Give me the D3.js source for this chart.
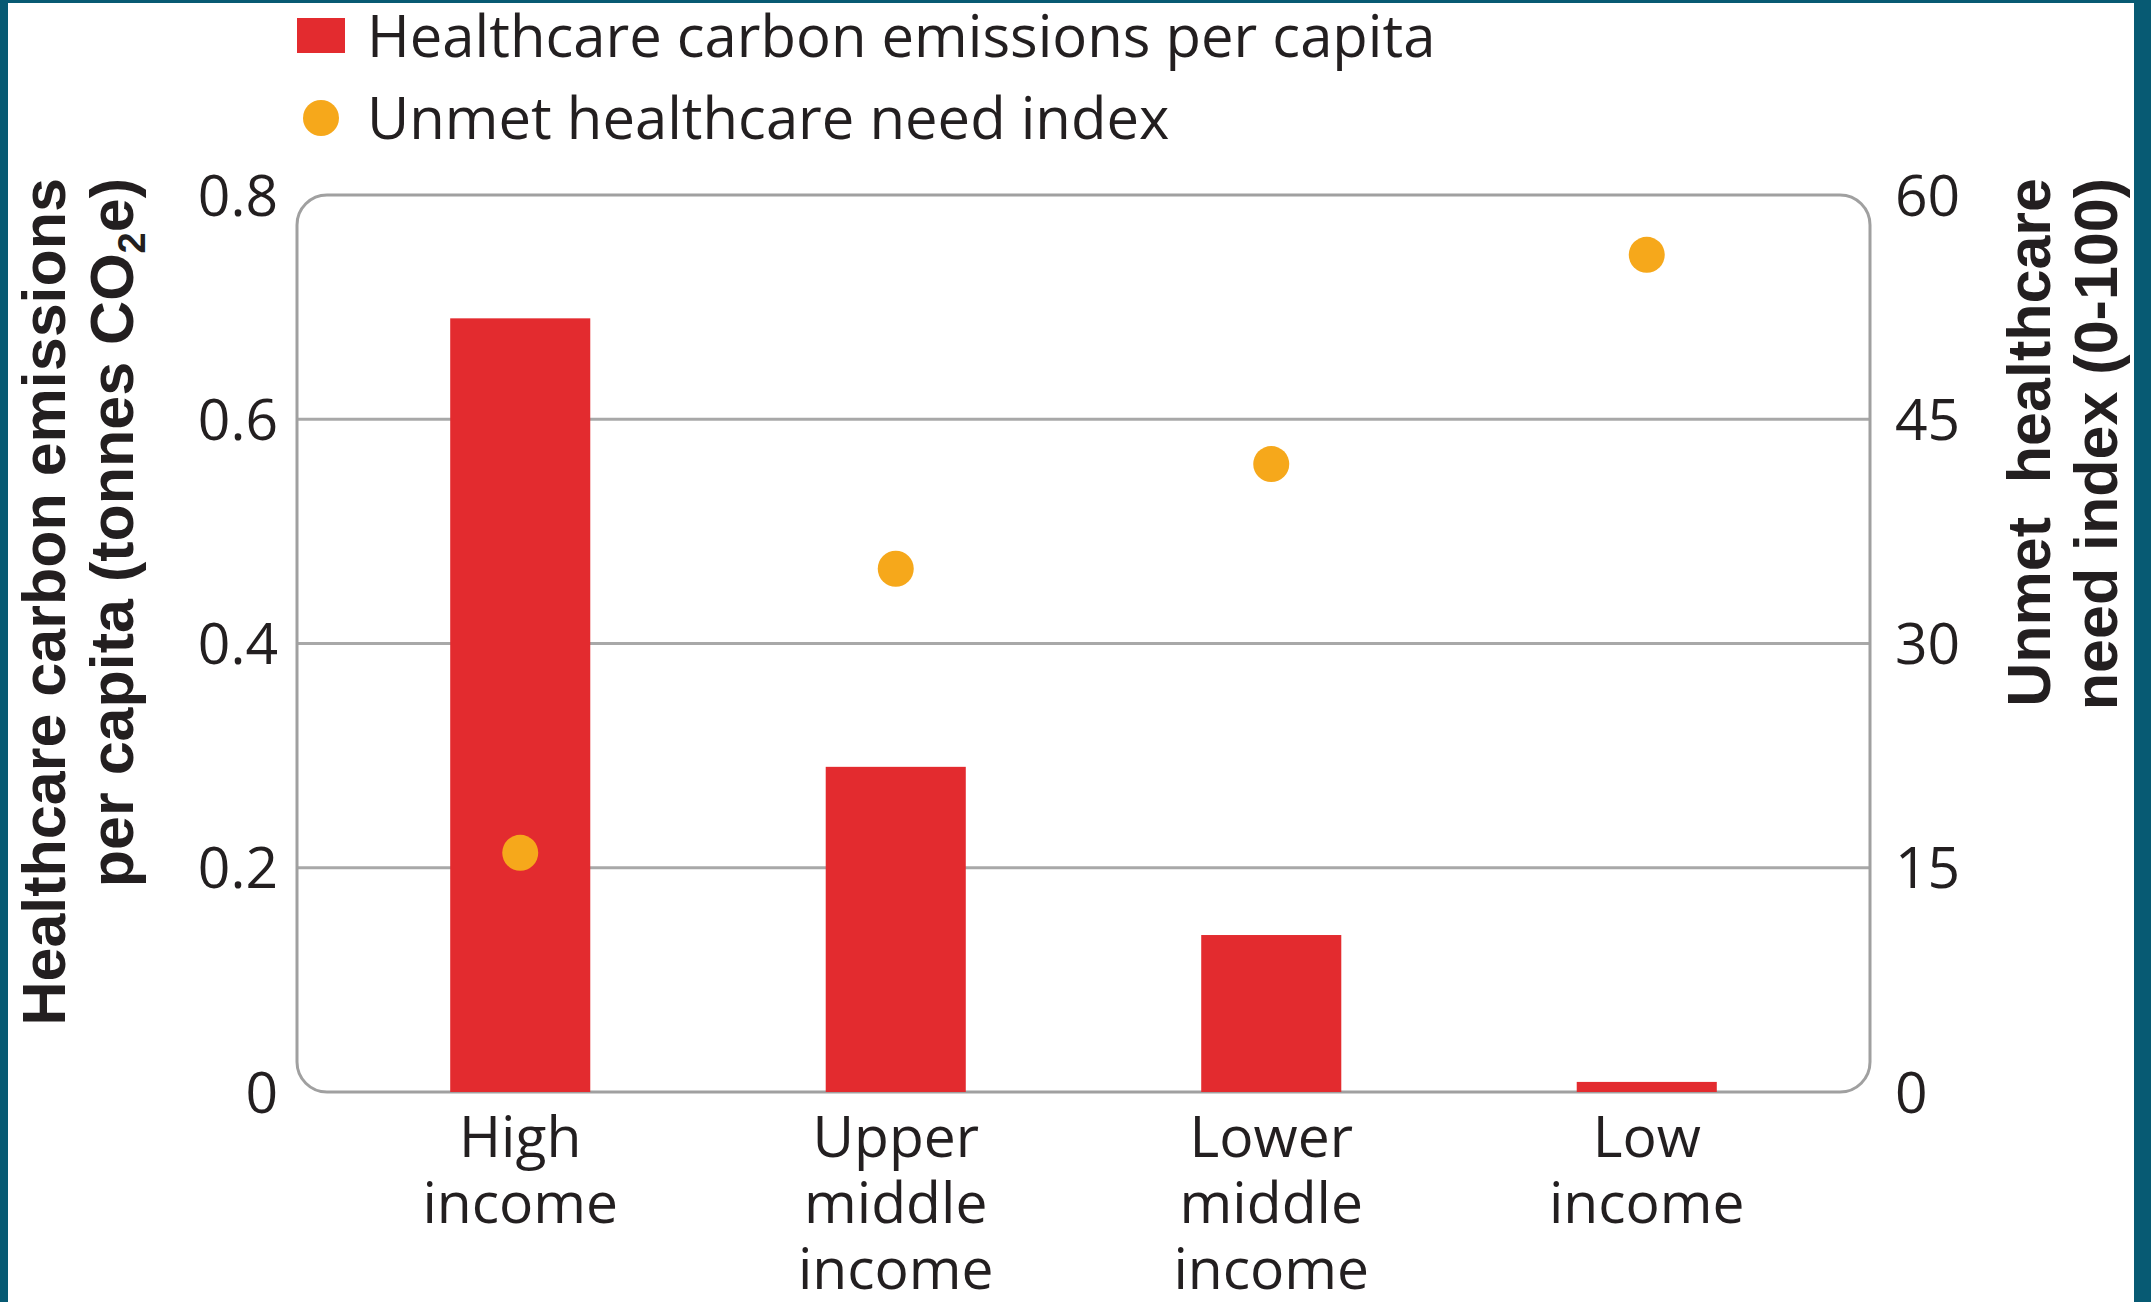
<!DOCTYPE html>
<html>
<head>
<meta charset="utf-8">
<script src="https://cdn.jsdelivr.net/npm/d3@7"></script>
<style>
  body { margin: 0; background: #075a73; }
  svg { display: block; }
  .tick-label, .cat-label, .legend-label { font-family: "Open Sans", sans-serif; font-size: 57px; fill: #231f20; }
  .legend-label { font-size: 58px; }
  .axis-title { font-family: "Liberation Sans", Arial, sans-serif; font-weight: bold; font-size: 61px; fill: #231f20; }
</style>
</head>
<body>
<div id="chart"></div>
<script>
// data
var categories = ["High income", "Upper middle income", "Lower middle income", "Low income"];
var catLines = [["High", "income"], ["Upper", "middle", "income"], ["Lower", "middle", "income"], ["Low", "income"]];
var emissions = [0.69, 0.29, 0.14, 0.009];
var unmetNeed = [16, 35, 42, 56];
var leftTicks = [0, 0.2, 0.4, 0.6, 0.8];
var rightTicks = [0, 15, 30, 45, 60];
var seriesNames = ["Healthcare carbon emissions per capita", "Unmet healthcare need index"];

var width = 2151, height = 1302;
var plotLeft = 297, plotRight = 1870, plotTop = 195, plotBottom = 1092;

var svg = d3.select("#chart").append("svg")
  .attr("width", width)
  .attr("height", height);

//frame
svg.append("rect").attr("width", width).attr("height", height).attr("fill", "#075a73");
svg.append("rect").attr("x", 8).attr("y", 3).attr("width", 2134 - 8).attr("height", height).attr("fill", "#fff");

var x = d3.scaleBand()
  .domain(categories)
  .range([plotLeft, plotRight])
  .paddingInner(0.627)
  .paddingOuter(0.408);

var yL = d3.scaleLinear().domain([0, 0.8]).range([plotBottom, plotTop]);
var yR = d3.scaleLinear().domain([0, 60]).range([plotBottom, plotTop]);

//gridlines
svg.append("g").selectAll("line")
  .data(leftTicks.slice(1, -1))
  .enter().append("line")
  .attr("x1", plotLeft).attr("x2", plotRight)
  .attr("y1", function(d) { return yL(d); })
  .attr("y2", function(d) { return yL(d); })
  .attr("stroke", "#a8a8a8")
  .attr("stroke-width", 3);

//plot border
svg.append("rect")
  .attr("x", plotLeft).attr("y", plotTop)
  .attr("width", plotRight - plotLeft).attr("height", plotBottom - plotTop)
  .attr("rx", 30).attr("ry", 30)
  .attr("fill", "none")
  .attr("stroke", "#a0a0a0")
  .attr("stroke-width", 3);

//bars
svg.append("g").selectAll("rect")
  .data(categories)
  .enter().append("rect")
  .attr("x", function(d) { return x(d); })
  .attr("width", x.bandwidth())
  .attr("y", function(d, i) { return yL(emissions[i]); })
  .attr("height", function(d, i) { return yL(0) - yL(emissions[i]); })
  .attr("fill", "#e32b2f");

//dots
svg.append("g").selectAll("circle")
  .data(categories)
  .enter().append("circle")
  .attr("cx", function(d) { return x(d) + x.bandwidth() / 2; })
  .attr("cy", function(d, i) { return yR(unmetNeed[i]); })
  .attr("r", 18)
  .attr("fill", "#f6a81b");

//tick labels
svg.append("g").selectAll("text")
  .data(leftTicks)
  .enter().append("text")
  .attr("class", "tick-label")
  .attr("x", 278)
  .attr("y", function(d) { return yL(d); })
  .attr("dy", "0.36em")
  .attr("text-anchor", "end")
  .text(function(d) { return d === 0 ? "0" : d3.format(".1f")(d); });

svg.append("g").selectAll("text")
  .data(rightTicks)
  .enter().append("text")
  .attr("class", "tick-label")
  .attr("x", 1895)
  .attr("y", function(d) { return yR(d); })
  .attr("dy", "0.36em")
  .attr("text-anchor", "start")
  .text(function(d) { return d; });

//category labels
var cat = svg.append("g").selectAll("text")
  .data(categories)
  .enter().append("text")
  .attr("class", "cat-label")
  .attr("text-anchor", "middle")
  .attr("transform", function(d) { return "translate(" + (x(d) + x.bandwidth() / 2) + ",1157)"; });
cat.selectAll("tspan")
  .data(function(d, i) { return catLines[i]; })
  .enter().append("tspan")
  .attr("x", 0)
  .attr("y", function(d, j) { return j * 66; })
  .text(function(d) { return d; });

//axis titles
var lt = svg.append("text")
  .attr("class", "axis-title")
  .attr("text-anchor", "end")
  .attr("transform", "translate(65,178) rotate(-90)");
lt.append("tspan").attr("x", 0).attr("y", 0).text("Healthcare carbon emissions");
var l2 = lt.append("tspan").attr("x", 0).attr("y", 68).text("per capita (tonnes CO");
l2.append("tspan").attr("dy", 12).attr("font-size", 38).text("2");
l2.append("tspan").attr("dy", -12).text("e)");

var rt = svg.append("text")
  .attr("class", "axis-title")
  .attr("text-anchor", "end")
  .style("white-space", "pre")
  .attr("transform", "translate(2050,178) rotate(-90)");
rt.append("tspan").attr("x", 0).attr("y", 0).text("Unmet  healthcare");
rt.append("tspan").attr("x", 0).attr("y", 67).text("need index (0-100)");

//legend
svg.append("rect").attr("x", 297).attr("y", 18).attr("width", 48).attr("height", 35).attr("fill", "#e32b2f");
svg.append("circle").attr("cx", 321).attr("cy", 118).attr("r", 18).attr("fill", "#f6a81b");
svg.append("g").selectAll("text")
  .data(seriesNames)
  .enter().append("text")
  .attr("class", "legend-label")
  .attr("x", 367)
  .attr("y", function(d, i) { return 57 + i * 82; })
  .text(function(d) { return d; });
</script>
</body>
</html>
